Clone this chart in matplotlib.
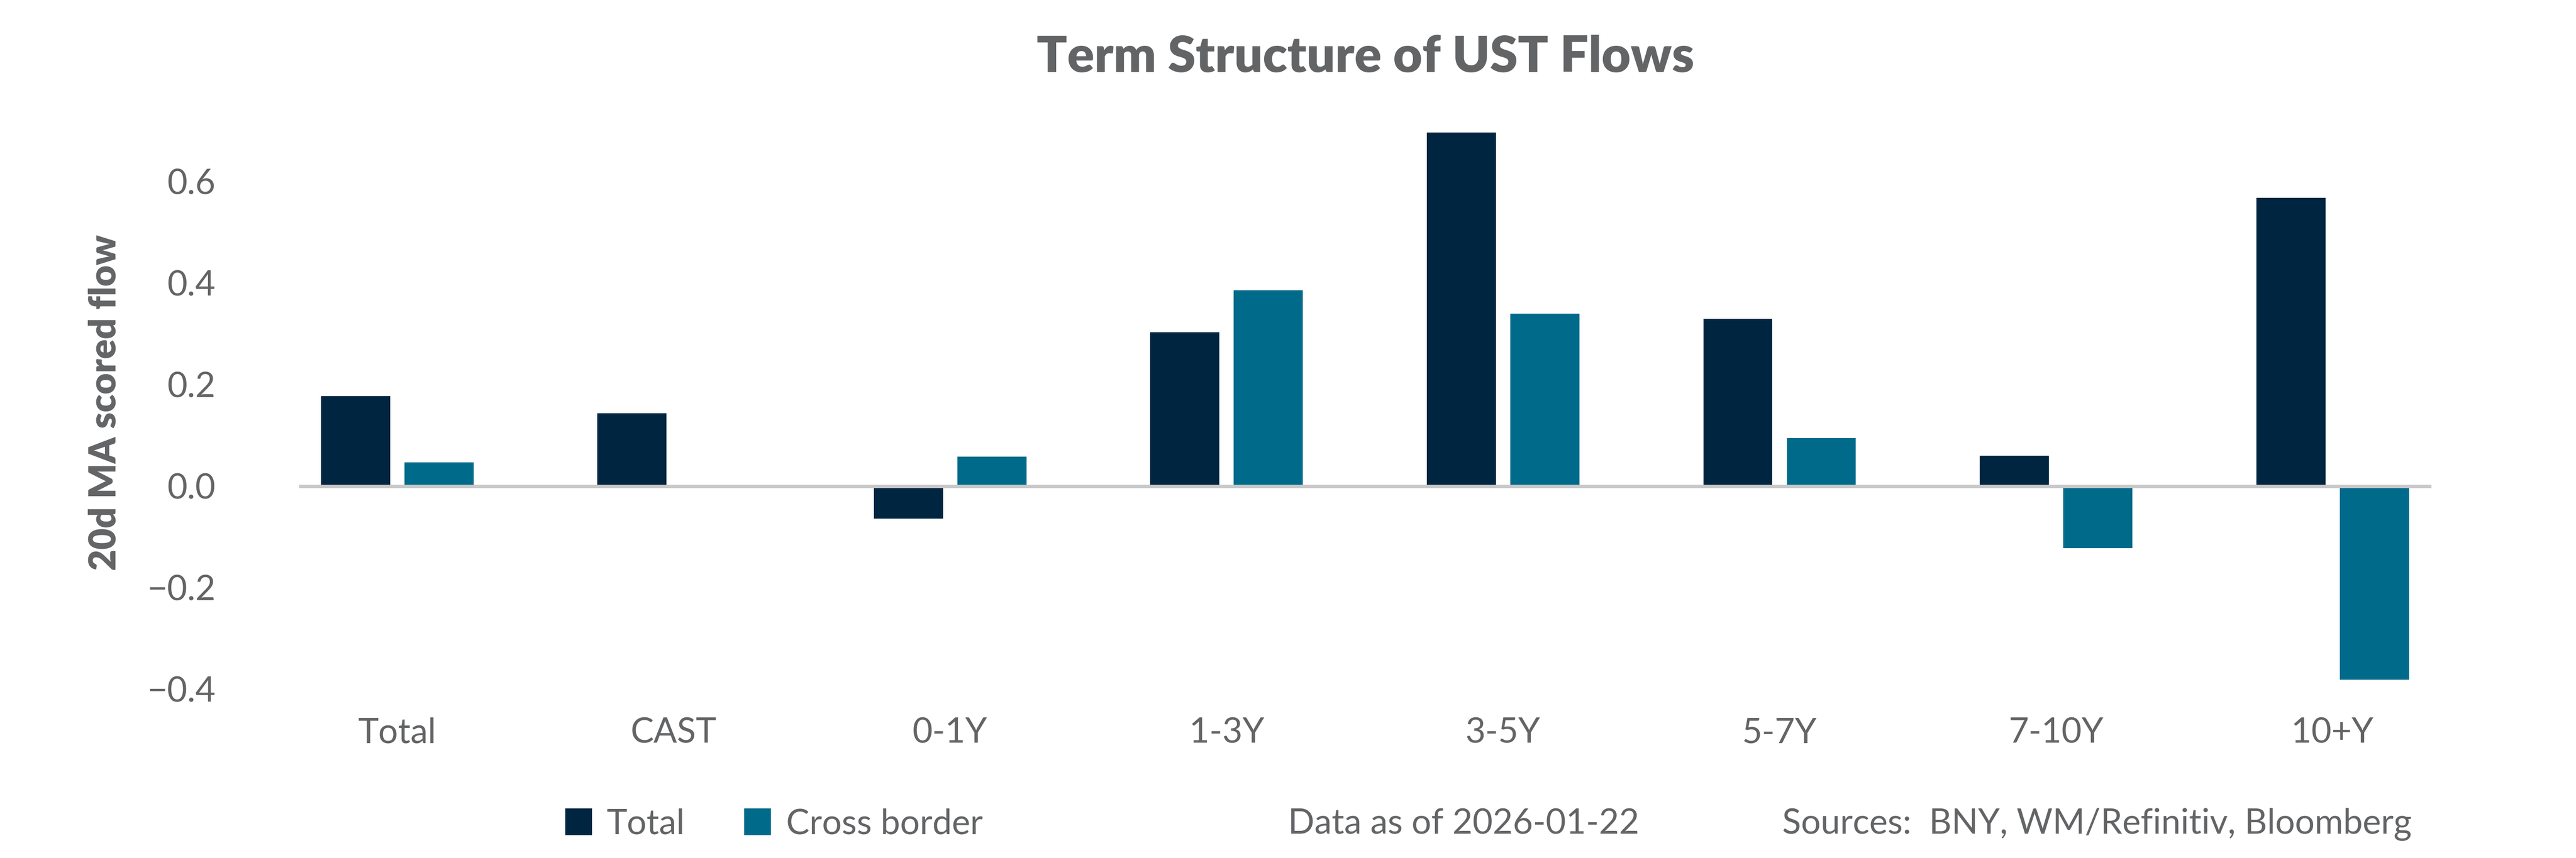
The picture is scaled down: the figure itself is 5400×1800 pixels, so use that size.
import matplotlib
matplotlib.use("Agg")
import matplotlib.pyplot as plt
import numpy as np
from matplotlib.patches import Patch

# ---- data ----
categories = ["Total", "CAST", "0-1Y", "1-3Y", "3-5Y", "5-7Y", "7-10Y", "10+Y"]
total_vals = [0.177, 0.143, -0.064, 0.303, 0.696, 0.329, 0.060, 0.568]
cross_vals = [0.047, np.nan, 0.058, 0.386, 0.340, 0.095, -0.122, -0.381]
yticks = [-0.4, -0.2, 0.0, 0.2, 0.4, 0.6]
series_names = ["Total", "Cross border"]
title = "Term Structure of UST Flows"
ylabel = "20d MA scored flow"
note_date = "Data as of 2026-01-22"
note_src = "Sources:  BNY, WM/Refinitiv, Bloomberg"

# ---- style ----
NAVY = "#002540"
TEAL = "#006a8b"
GRAY = "#636466"
ZERO = "#c8c8c8"
plt.rcParams["font.family"] = ["Lato", "DejaVu Sans"]
TXT_W = "normal"

fig = plt.figure(figsize=(18, 6), dpi=300)
ax = fig.add_axes([0.1161, 0.1967, 0.9439 - 0.1161, 0.8478 - 0.1967])

x = np.arange(len(categories))
w = 0.25
off = 0.151
ax.bar(x - off, total_vals, width=w, color=NAVY, zorder=2)
ax.bar(x + off, cross_vals, width=w, color=TEAL, zorder=2)
ax.axhline(0, color=ZERO, lw=1.7, zorder=3)

ax.set_xlim(-0.355, 7.358)
ax.set_ylim(-0.4, 0.7)
ax.set_yticks(yticks)
ax.set_yticklabels([f"{v:.1f}".replace("-", "\u2212") for v in yticks])
ax.set_xticks(x)
ax.set_xticklabels(categories)
for s in ax.spines.values():
    s.set_visible(False)
ax.tick_params(axis="y", length=0, pad=42, labelsize=17.5, labelcolor=GRAY)
ax.tick_params(axis="x", length=0, pad=14, labelsize=17.5, labelcolor=GRAY)
for lab in ax.get_xticklabels() + ax.get_yticklabels():
    lab.set_fontweight(TXT_W)

fig.text(0.530, 0.933, title, ha="center", va="center", fontsize=25.3,
         fontweight="heavy", color=GRAY)
fig.text(0.0407, 0.531, ylabel, ha="center", va="center", rotation=90,
         fontsize=18.5, fontweight="heavy", color=GRAY)

handles = [Patch(facecolor=NAVY, edgecolor="none"), Patch(facecolor=TEAL, edgecolor="none")]
leg = fig.legend(handles, series_names, loc="center left", bbox_to_anchor=(0.2194, 0.0394),
                 ncol=2, frameon=False, fontsize=17.5, handlelength=0.77, handleheight=0.8,
                 handletextpad=0.43, columnspacing=1.7, borderpad=0, borderaxespad=0)
for t in leg.get_texts():
    t.set_color(GRAY)
    t.set_fontweight(TXT_W)

fig.text(0.5, 0.0394, note_date, ha="left", va="center", fontsize=17.5,
         fontweight=TXT_W, color=GRAY)
fig.text(0.6919, 0.0394, note_src, ha="left", va="center", fontsize=17.5,
         fontweight=TXT_W, color=GRAY)

fig.savefig("out.png", dpi=300, facecolor="white")
